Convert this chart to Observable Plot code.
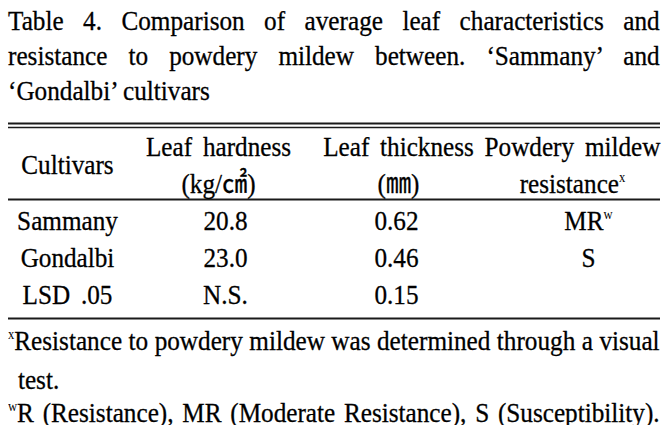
<!DOCTYPE html>
<html>
<head>
<meta charset="utf-8">
<script src="https://cdn.jsdelivr.net/npm/d3@7"></script>
<script src="https://cdn.jsdelivr.net/npm/@observablehq/plot@0.6"></script>
<style>
  html, body { margin: 0; padding: 0; background: #fff; }
  body { width: 671px; height: 427px; overflow: hidden; color: #000;
         font-family: "Liberation Serif", "Times New Roman", "Noto Sans CJK KR", serif; }
  .block { box-sizing: border-box; width: 671px; padding-left: 8px; font-size: 28px; overflow: hidden;
           -webkit-text-stroke: 0.3px #000; }
  .block > div { width: 724px; transform: scaleX(0.9); transform-origin: 0 0; white-space: nowrap; }
  .block > div.j { white-space: normal; }
  #title { height: 112px; padding-top: 3px; line-height: 35px; }
  #notes { line-height: 33.5px; height: 101px; margin-top: -2px; }
  .j { text-align: justify; text-align-last: justify; }
  .sup { font-size: 14px; position: relative; top: -11px; -webkit-text-stroke: 0; }
  #chart svg { display: block; }
  #chart svg text { word-spacing: 5px; }
</style>
</head>
<body>
<div id="title" class="block">
  <div class="j">Table 4. Comparison of average leaf characteristics and</div>
  <div class="j">resistance to powdery mildew between. ‘Sammany’ and</div>
  <div>‘Gondalbi’ cultivars</div>
</div>
<div id="chart"></div>
<div id="notes" class="block">
  <div class="j"><span class="sup">x</span>Resistance to powdery mildew was determined through a visual</div>
  <div style="padding-left:11px">test.</div>
  <div class="j"><span class="sup">w</span>R (Resistance), MR (Moderate Resistance), S (Susceptibility).</div>
</div>
<script>
// ---- table content ----
const columns = ["Cultivars", "Leaf hardness", "Leaf thickness", "Powdery mildew"];
const headerTop = ["Leaf hardness", "Leaf thickness", "Powdery mildew"];
const headerBottom = ["(kg/㎠)", "(㎜)", "resistance"];
const headerBottomSup = ["", "", "x"];
const cultivars = ["Sammany", "Gondalbi"];
const leafHardness = [20.8, 23.0];          // kg/cm2
const leafThickness = [0.62, 0.46];         // mm
const mildewResistance = ["MR", "S"];
const mildewResistanceSup = ["w", ""];
const lsdLabel = "LSD .05";
const lsdHardness = "N.S.";
const lsdThickness = 0.15;

const rows = ["head1", "head2", ...cultivars, lsdLabel];

// ---- build cells ----
const header = [];
headerTop.forEach((t, i) => header.push({col: i + 1, row: "head1", text: t}));
headerBottom.forEach((t, i) => header.push({col: i + 1, row: "head2",
  text: t + (headerBottomSup[i] ? "^" + headerBottomSup[i] : "")}));
const body = [];
cultivars.forEach((c, i) => {
  body.push({col: 0, row: c, text: c});
  body.push({col: 1, row: c, text: d3.format(".1f")(leafHardness[i])});
  body.push({col: 2, row: c, text: d3.format(".2f")(leafThickness[i])});
  body.push({col: 3, row: c,
    text: mildewResistance[i] + (mildewResistanceSup[i] ? "^" + mildewResistanceSup[i] : "")});
});
body.push({col: 0, row: lsdLabel, text: lsdLabel});
body.push({col: 1, row: lsdLabel, text: lsdHardness});
body.push({col: 2, row: lsdLabel, text: d3.format(".2f")(lsdThickness)});

const font = "'Liberation Serif', 'Times New Roman', 'Noto Sans CJK KR', serif";
const bodyShift = [0, 7, -2, 16];   // small horizontal nudges of body cells per column
const textOpts = {x: "col", y: "row", text: "text", fontSize: 28, fontFamily: font,
  fill: "#000", stroke: "#000", strokeWidth: 0.3};

const plot = Plot.plot({
  width: 671,
  height: 214,
  marginLeft: 8,
  marginRight: 11,
  marginTop: 0,
  marginBottom: 0,
  x: {type: "linear", domain: [0, 1, 2, 3], range: [67, 218, 398, 572], axis: null},
  y: {type: "point", domain: rows, range: [35, 183], padding: 0, axis: null},
  style: {fontFamily: font, fontSize: "28px", color: "#000", background: "#fff"},
  marks: [
    Plot.ruleY([rows[0]], {dy: -24, strokeWidth: 2, stroke: "#1a1a1a"}),
    Plot.ruleY([rows[0]], {dy: -20, strokeWidth: 1.3, stroke: "#1a1a1a"}),
    Plot.ruleY([cultivars[0]], {dy: -22, strokeWidth: 2, stroke: "#1a1a1a"}),
    Plot.ruleY([lsdLabel], {dy: 23, strokeWidth: 2, stroke: "#1a1a1a"}),
    Plot.text([columns[0]], {...textOpts, x: () => 0, y: () => rows[0], text: d => d, dy: 18}),
    Plot.text(header, textOpts),
    ...bodyShift.map((dx, c) => Plot.text(body.filter(d => d.col === c), {...textOpts, dx}))
  ]
});

const ns = "http://www.w3.org/2000/svg";
plot.querySelectorAll("text").forEach(t => {
  // superscripts: "base^s" -> base + raised small tspan
  const m = t.textContent.match(/^(.*)\^(.)$/);
  if (m) {
    t.textContent = "";
    const a = document.createElementNS(ns, "tspan");
    a.textContent = m[1];
    const b = document.createElementNS(ns, "tspan");
    b.textContent = m[2];
    b.setAttribute("font-size", "14");
    b.setAttribute("stroke-width", "0");
    b.setAttribute("dy", "-11");
    t.appendChild(a);
    t.appendChild(b);
  }
  // narrow the serif glyphs around each text's anchor point
  const tr = t.getAttribute("transform");
  if (tr) t.setAttribute("transform", tr + " scale(0.9,1)");
  else {
    const x = +(t.getAttribute("x") || 0);
    t.setAttribute("transform", `translate(${x},0) scale(0.9,1) translate(${-x},0)`);
  }
});

document.getElementById("chart").appendChild(plot);
</script>
</body>
</html>
